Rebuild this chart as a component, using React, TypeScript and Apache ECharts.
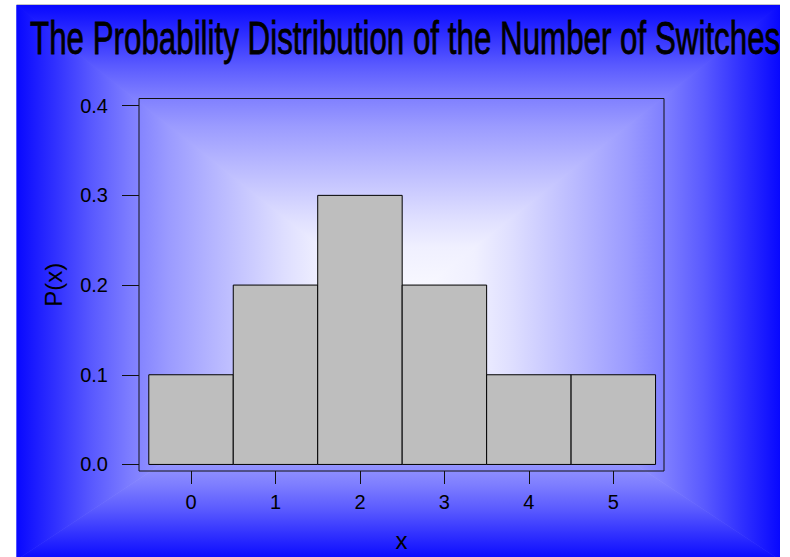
import React, { useEffect, useRef } from "react";
import * as echarts from "echarts";

const titleText = "The Probability Distribution of the Number of Switches";
const xName = "x";
const yName = "P(x)";
const xValues = [0, 1, 2, 3, 4, 5];
const probabilities = [0.1, 0.2, 0.3, 0.2, 0.1, 0.1];
const xTicks = [0, 1, 2, 3, 4, 5];
const yTicks = [0, 0.1, 0.2, 0.3, 0.4];

const FONT = "'Liberation Sans', Arial, sans-serif";

function bgStops() {
  const levels = [
    [0, 8], [0.05, 28], [0.1, 48], [0.2, 90], [0.3, 126], [0.4, 155],
    [0.5, 178], [0.6, 200], [0.7, 222], [0.8, 240], [1, 252],
  ];
  return levels.map(([o, v]) => ({ offset: o, color: `rgb(${v},${v},255)` }));
}

export default function App() {
  const ref = useRef<HTMLDivElement>(null);
  useEffect(() => {
    if (!ref.current) return;
    const chart = echarts.init(ref.current, undefined, { renderer: "svg" });

    const L = 16.5, R = 780, T = 5, B = 560;
    const cx = 398, cy = 308;
    const stops = bgStops();
    const lin = (x: number, y: number, x2: number, y2: number) => ({
      type: "linear", x, y, x2, y2, colorStops: stops, global: false,
    });
    const radialStops = stops.map((s) => ({ offset: 1 - s.offset, color: s.color })).reverse();

    const canvas = document.createElement("canvas");
    const ctx = canvas.getContext("2d")!;
    ctx.font = `46px 'Liberation Sans'`;
    const tw = ctx.measureText(titleText).width || 1240;
    const titleScale = 750 / tw;

    const option: any = {
      animation: false,
      grid: {
        left: 139, top: 98.5, width: 525, height: 376,
        show: true, borderColor: "#111", borderWidth: 1, backgroundColor: "transparent",
        containLabel: false,
      },
      xAxis: {
        type: "value",
        min: -0.616, max: 5.6,
        name: xName,
        nameLocation: "middle",
        nameGap: 57,
        nameTextStyle: { fontSize: 24, fontFamily: FONT, color: "#000" },
        axisLine: { show: false, onZero: false },
        splitLine: { show: false },
        axisTick: { show: true, length: 13, customValues: xTicks, lineStyle: { color: "#111", width: 1 } },
        axisLabel: {
          customValues: xTicks, margin: 21, fontSize: 20, fontFamily: FONT, color: "#000",
          formatter: (v: number) => String(v),
        },
      },
      yAxis: {
        type: "value",
        min: -0.0073, max: 0.408,
        name: yName,
        nameLocation: "middle",
        nameGap: 74,
        nameTextStyle: { fontSize: 24, fontFamily: FONT, color: "#000" },
        axisLine: { show: false, onZero: false },
        splitLine: { show: false },
        axisTick: { show: true, length: 17, customValues: yTicks, lineStyle: { color: "#111", width: 1 } },
        axisLabel: {
          customValues: yTicks, margin: 31, fontSize: 20, fontFamily: FONT, color: "#000",
          formatter: (v: number) => v.toFixed(1),
        },
      },
      graphic: [
        {
          type: "rect", z: -11, silent: true,
          shape: { x: L, y: T, width: R - L, height: B - T },
          style: {
            fill: {
              type: "radial", x: (cx - L) / (R - L), y: (cy - T) / (B - T), r: 0.75,
              colorStops: radialStops, global: false,
            },
          },
        },
        { type: "polygon", z: -10, silent: true, shape: { points: [[L, T], [R, T], [cx, cy]] }, style: { fill: lin(0, 0, 0, 1) } },
        { type: "polygon", z: -10, silent: true, shape: { points: [[L, B], [R, B], [cx, cy]] }, style: { fill: lin(0, 1, 0, 0) } },
        { type: "polygon", z: -10, silent: true, shape: { points: [[L, T], [L, B], [cx, cy]] }, style: { fill: lin(0, 0, 1, 0) } },
        { type: "polygon", z: -10, silent: true, shape: { points: [[R, T], [R, B], [cx, cy]] }, style: { fill: lin(1, 0, 0, 0) } },
        { type: "line", z: -9, silent: true, shape: { x1: L, y1: 4.5, x2: R, y2: 4.5 }, style: { stroke: "#c4c4c4", lineWidth: 1 } },
        {
          type: "text", z: 10, silent: true, x: 30, y: 37.5, scaleX: titleScale, scaleY: 1,
          style: {
            text: titleText, fontSize: 46, fontFamily: FONT, fill: "#000",
            stroke: "#000", lineWidth: 0.8,
            textAlign: "left", textVerticalAlign: "middle", align: "left", verticalAlign: "middle",
          },
        },
      ],
      series: [
        {
          type: "custom",
          data: xValues.map((x, i) => [x, probabilities[i]]),
          renderItem: (params: any, api: any) => {
            const x = api.value(0);
            const y = api.value(1);
            const p0 = api.coord([x - 0.5, 0]);
            const p1 = api.coord([x + 0.5, y]);
            return {
              type: "rect",
              shape: { x: p0[0], y: p1[1], width: p1[0] - p0[0], height: p0[1] - p1[1] },
              style: { fill: "#bebebe", stroke: "#000", lineWidth: 1 },
            };
          },
        },
      ],
    };
    chart.setOption(option);
    return () => chart.dispose();
  }, []);
  return (
    <div
      ref={ref}
      style={{ position: "fixed", left: 0, top: 0, width: 790, height: 557, background: "#fff" }}
    />
  );
}
